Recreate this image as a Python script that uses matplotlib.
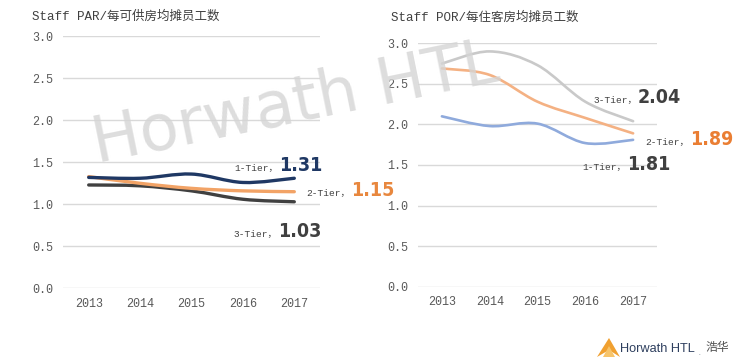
import numpy as np
import matplotlib
matplotlib.use("Agg")
import matplotlib.pyplot as plt
from matplotlib.path import Path
from matplotlib.patches import PathPatch, Polygon
from matplotlib.transforms import IdentityTransform

# data
years = ['2013', '2014', '2015', '2016', '2017']
yticks = [0.0, 0.5, 1.0, 1.5, 2.0, 2.5, 3.0]

par_tier1 = [1.32, 1.31, 1.36, 1.26, 1.31]
par_tier2 = [1.33, 1.25, 1.19, 1.16, 1.15]
par_tier3 = [1.23, 1.22, 1.16, 1.06, 1.03]

por_tier1 = [2.10, 1.98, 2.01, 1.77, 1.81]
por_tier2 = [2.69, 2.61, 2.28, 2.08, 1.89]
por_tier3 = [2.75, 2.90, 2.73, 2.28, 2.04]

MONO_CJK = ['Liberation Mono', 'Noto Sans CJK SC']
NUM_FONT = ['DejaVu Sans']


def smooth_path(ys):
    # excel-like smoothed line (catmull-rom as cubic bezier)
    pts = np.column_stack([np.arange(len(ys)), ys]).astype(float)
    verts = [pts[0]]
    codes = [Path.MOVETO]
    n = len(pts)
    for i in range(n - 1):
        p0 = pts[i - 1] if i > 0 else pts[i]
        p1, p2 = pts[i], pts[i + 1]
        p3 = pts[i + 2] if i + 2 < n else pts[i + 1]
        verts += [p1 + (p2 - p0) / 6, p2 - (p3 - p1) / 6, p2]
        codes += [Path.CURVE4] * 3
    return Path(verts, codes)


def setup_axes(ax, title, title_xy):
    ax.set_xlim(-0.5, 4.5)
    ax.set_ylim(0, 3.0)
    ax.set_yticks(yticks)
    ax.set_yticklabels([f"{v:.1f}" for v in yticks], family=MONO_CJK, fontsize=8.5, color='#595959')
    ax.set_xticks(range(len(years)))
    ax.set_xticklabels(years, family=MONO_CJK, fontsize=8.5, color='#595959')
    ax.tick_params(axis='both', length=0)
    ax.tick_params(axis='y', pad=7)
    ax.tick_params(axis='x', pad=7)
    for s in ax.spines.values():
        s.set_visible(False)
    ax.grid(axis='y', color='#d9d9d9', lw=1)
    ax.set_axisbelow(True)
    fig.text(title_xy[0], title_xy[1], title, family=MONO_CJK, fontsize=9,
             color='#404040', va='center', ha='left')


def draw_line(ax, ys, color, lw):
    ax.add_patch(PathPatch(smooth_path(ys), fill=False, edgecolor=color, lw=lw,
                           capstyle='round', zorder=3))


def label(ax, ys, prefix, num_color, dx, dy):
    xy = (len(ys) - 1, ys[-1])
    ax.annotate(f"{ys[-1]:.2f}", xy, xytext=(dx, dy), textcoords='offset pixels',
                ha='left', va='baseline', family=NUM_FONT, weight='bold',
                fontstretch='condensed', fontsize=14, color=num_color,
                annotation_clip=False)
    ax.annotate(prefix, xy, xytext=(dx - 1, dy), textcoords='offset pixels',
                ha='right', va='baseline', family=MONO_CJK, fontsize=6.8,
                color='#404040', annotation_clip=False)


fig = plt.figure(figsize=(7.38, 3.62), dpi=100)
H = 362

# left: Staff PAR
ax1 = fig.add_axes([63 / 738, 1 - 288.3 / 362, 257 / 738, 252 / 362])
setup_axes(ax1, 'Staff PAR/每可供房均摊员工数', (32 / 738, 1 - 17 / 362))
draw_line(ax1, par_tier3, '#404040', 2.4)
draw_line(ax1, par_tier2, '#F2A366', 2.4)
draw_line(ax1, par_tier1, '#1F3864', 2.4)
label(ax1, par_tier1, '1-Tier，', '#1F3864', -15, 7)
label(ax1, par_tier2, '2-Tier，', '#E8873E', 57, -4)
label(ax1, par_tier3, '3-Tier，', '#404040', -16, -35)

# right: Staff POR
ax2 = fig.add_axes([418 / 738, 1 - 286.7 / 362, 239 / 738, 243.4 / 362])
setup_axes(ax2, 'Staff POR/每住客房均摊员工数', (391 / 738, 1 - 18 / 362))
draw_line(ax2, por_tier3, '#C9C9C9', 1.9)
draw_line(ax2, por_tier2, '#F4B183', 1.9)
draw_line(ax2, por_tier1, '#8FAADC', 1.9)
label(ax2, por_tier3, '3-Tier，', '#404040', 5, 18)
label(ax2, por_tier2, '2-Tier，', '#EA7E33', 57, -12)
label(ax2, por_tier1, '1-Tier，', '#404040', -6, -30)

# watermark
fig.text(97 / 738, 1 - 163 / 362, 'Horwath HTL', family='DejaVu Sans',
         fontsize=46, color='#d5d5d5', alpha=0.8, rotation=11.5, rotation_mode='anchor',
         ha='left', va='baseline', zorder=10)

# logo
fig.patches.append(Polygon([(597, H - 357), (609, H - 338), (620, H - 357), (609, H - 350)],
                           closed=True, transform=IdentityTransform(),
                           facecolor='#F0A030', edgecolor='none'))
fig.patches.append(Polygon([(603, H - 357), (609, H - 346), (615, H - 357)],
                           closed=True, transform=IdentityTransform(),
                           facecolor='#F7C46A', edgecolor='none'))
fig.text(620 / 738, 1 - 349 / 362, 'Horwath HTL', fontsize=9.2, color='#2E3F5E',
         family='Liberation Sans', va='center', ha='left')
fig.text(698 / 738, 1 - 355 / 362, '.', fontsize=4, color='#2E3F5E', va='baseline')
fig.text(705 / 738, 1 - 348 / 362, '浩华', fontsize=8.5, color='#505050',
         family=['Noto Sans CJK SC'], va='center', ha='left')

fig.savefig('out.png', dpi=100)
